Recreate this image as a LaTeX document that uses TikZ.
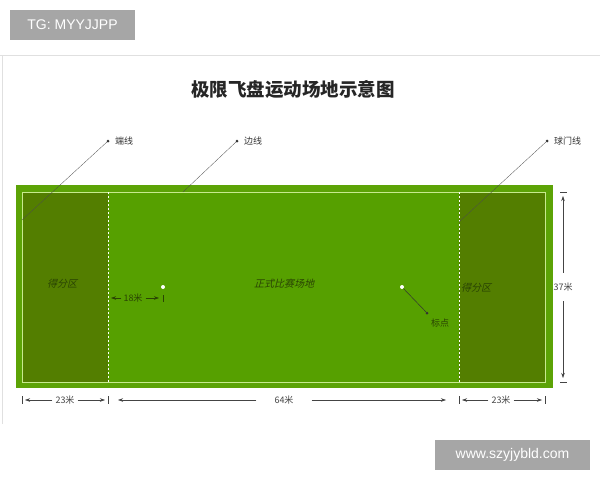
\documentclass[tikz,border=0pt]{standalone}
\usepackage{fontspec}
\setmainfont{Liberation Sans}
\newfontfamily\cjk{Noto Sans CJK SC}
\newfontfamily\cjkit{Noto Sans CJK SC}[FakeSlant=0.25]
\usetikzlibrary{arrows.meta}
\definecolor{outg}{HTML}{5CA306}
\definecolor{midg}{HTML}{56A000}
\definecolor{endg}{HTML}{537E00}
\definecolor{lineg}{HTML}{C8EA8E}
\definecolor{darkg}{HTML}{2A4404}
\definecolor{dimc}{HTML}{444444}
\definecolor{boxg}{HTML}{A6A6A6}
\tikzset{
  tagbox/.style={fill=boxg,text=white,inner sep=0pt,font=\fontsize{14}{14}\selectfont},
  leader/.style={draw=black!70,line width=0.3pt},
  lbl/.style={font=\cjk\fontsize{9}{9}\selectfont,text=black!80,inner sep=1pt},
  zonelbl/.style={font=\cjkit\fontsize{10}{10}\selectfont,text=darkg,inner sep=0pt},
  dimlbl/.style={font=\cjk\fontsize{9}{9}\selectfont,text=dimc,inner sep=0pt},
  dimarr/.style={draw=dimc,line width=0.5pt,-{Stealth[length=5pt,width=3.5pt]}},
  dimtick/.style={draw=dimc,line width=0.6pt},
  ldot/.style={circle,fill=black!80,inner sep=0pt,minimum size=3pt},
  wdot/.style={circle,fill=white,inner sep=0pt,minimum size=4pt},
}
\begin{document}
\begin{tikzpicture}[x=1pt,y=-1pt]
\useasboundingbox (0,0) rectangle (600,480);
% panel frame
\draw[black!12,line width=0.8pt] (0,55) -- (600,55);
\draw[black!12,line width=0.8pt] (2,55) -- (2,424);
% tags
\node[tagbox,minimum width=125pt,minimum height=30pt] (tg) at (72.5,25) {TG: MYYJJPP};
\node[tagbox,minimum width=155pt,minimum height=30pt] (web) at (512.5,455) {www.szyjybld.com};
% title
\node[font=\cjk\bfseries\fontsize{18.5}{18.5}\selectfont,text=black!85] (title) at (293,89) {极限飞盘运动场地示意图};
% field
\fill[outg] (16,185) rectangle (553,388);
\fill[midg] (108,192) rectangle (459,382);
\fill[endg] (22,192) rectangle (108,382);
\fill[endg] (459,192) rectangle (545,382);
\draw[lineg,line width=1pt] (22,192) rectangle (545,382);
\draw[white,line width=0.5pt,dash pattern=on 2pt off 2pt] (108,192) -- (108,382);
\draw[white,line width=0.5pt,dash pattern=on 2pt off 2pt] (459,192) -- (459,382);
% zone labels
\node[zonelbl] (ez1) at (62,284) {得分区};
\node[zonelbl] (ez2) at (476,288) {得分区};
\node[zonelbl] (pf) at (284,284) {正式比赛场地};
% brick marks
\node[wdot] (b1) at (163,287) {};
\node[wdot] (b2) at (402,287) {};
\node[ldot] (bd) at (427,313) {};
\draw[leader,black!80,line width=0.5pt] (b2) -- (bd);
\node[font=\cjk\fontsize{9}{9}\selectfont,text=darkg,inner sep=0pt] (bl) at (440,323) {标点};
% leaders
\node[ldot] (d1) at (108,141) {};
\node[lbl,anchor=west] (l1) at (114,141) {端线};
\coordinate (e1) at (22,220);
\draw[leader] (d1) -- (e1);
\node[ldot] (d2) at (237,141) {};
\node[lbl,anchor=west] (l2) at (243,141) {边线};
\coordinate (e2) at (183,192);
\draw[leader] (d2) -- (e2);
\node[ldot] (d3) at (547,141) {};
\node[lbl,anchor=west] (l3) at (553,141) {球门线};
\coordinate (e3) at (459,222);
\draw[leader] (d3) -- (e3);
% 18m
\node[dimlbl,text=darkg] (m18) at (133,298) {18米};
\coordinate (m18a) at (111,298);
\coordinate (m18b) at (159,298);
\draw[dimarr,draw=darkg] (m18.west) ++(-2,0) -- (m18a);
\draw[dimarr,draw=darkg] (m18.east) ++(3,0) -- (m18b);
\draw[dimtick,draw=darkg] (163,295) -- (163,302);
% bottom dims
\foreach \x in {22,108,459,545} \draw[dimtick] (\x,396) -- (\x,404);
\node[dimlbl] (w1) at (65,400) {23米};
\coordinate (w1a) at (25,400);
\coordinate (w1b) at (105,400);
\draw[dimarr] (w1.west) ++(-3,0) -- (w1a);
\draw[dimarr] (w1.east) ++(3,0) -- (w1b);
\node[dimlbl] (w2) at (284,400) {64米};
\coordinate (w2a) at (118,400);
\coordinate (w2b) at (446,400);
\draw[dimarr] (w2.west) ++(-18,0) -- (w2a);
\draw[dimarr] (w2.east) ++(18,0) -- (w2b);
\node[dimlbl] (w3) at (501,400) {23米};
\coordinate (w3a) at (462,400);
\coordinate (w3b) at (542,400);
\draw[dimarr] (w3.west) ++(-3,0) -- (w3a);
\draw[dimarr] (w3.east) ++(3,0) -- (w3b);
% right dim
\draw[dimtick] (560,192) -- (567,192);
\draw[dimtick] (560,382) -- (567,382);
\node[dimlbl] (h1) at (563,287) {37米};
\coordinate (h1a) at (563,196);
\coordinate (h1b) at (563,378);
\draw[dimarr] (h1.north) ++(0,-10) -- (h1a);
\draw[dimarr] (h1.south) ++(0,10) -- (h1b);
\end{tikzpicture}
\end{document}
